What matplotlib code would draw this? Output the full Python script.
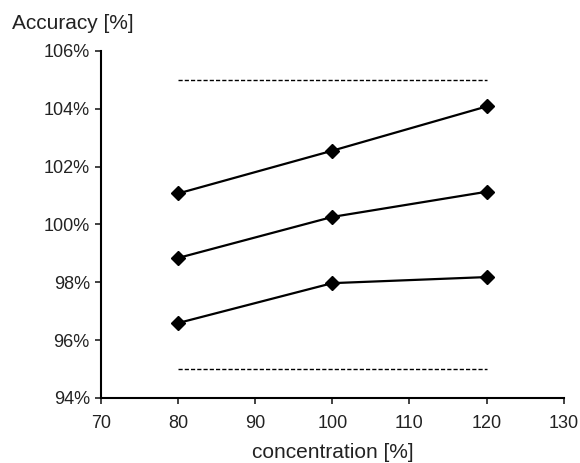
import matplotlib
matplotlib.use("Agg")
import matplotlib.pyplot as plt
from matplotlib.ticker import FuncFormatter

plt.rcParams['font.family'] = ['Liberation Sans', 'DejaVu Sans']

concentration = [80, 100, 120]
series_high = [101.07, 102.55, 104.08]
series_mid = [98.84, 100.26, 101.13]
series_low = [96.59, 97.97, 98.18]
limit_x = [80, 120]
upper_limit = [105, 105]
lower_limit = [95, 95]
x_ticks = [70, 80, 90, 100, 110, 120, 130]
y_ticks = [94, 96, 98, 100, 102, 104, 106]

fig = plt.figure(figsize=(5.8, 4.63), dpi=100)
ax = fig.add_axes([0.174, 0.1405, 0.798, 0.7495])

for s in (series_high, series_mid, series_low):
    ax.plot(concentration, s, color='black', lw=1.6, marker='D', ms=7,
            markerfacecolor='black', markeredgecolor='black')

ax.plot(limit_x, upper_limit, color='black', lw=1.0, linestyle=(0, (3, 1.5)))
ax.plot(limit_x, lower_limit, color='black', lw=1.0, linestyle=(0, (3, 1.5)))

ax.set_xlim(70, 130)
ax.set_ylim(94, 106)
ax.set_xticks(x_ticks)
ax.set_yticks(y_ticks)
ax.yaxis.set_major_formatter(FuncFormatter(lambda v, p: f"{v:.0f}%"))
ax.spines['top'].set_visible(False)
ax.spines['right'].set_visible(False)
for sp in ('left', 'bottom'):
    ax.spines[sp].set_linewidth(1.5)
ax.tick_params(direction='out', length=4, width=1.2, labelsize=13, colors='#222222')
ax.tick_params(axis='x', pad=8.5)
ax.tick_params(axis='y', pad=4)
ax.set_xlabel('concentration [%]', fontsize=15, labelpad=8, color='#222222')
fig.text(0.02, 0.949, 'Accuracy [%]', fontsize=15, va='center', ha='left', color='#222222')

fig.savefig('out.png', dpi=100)
